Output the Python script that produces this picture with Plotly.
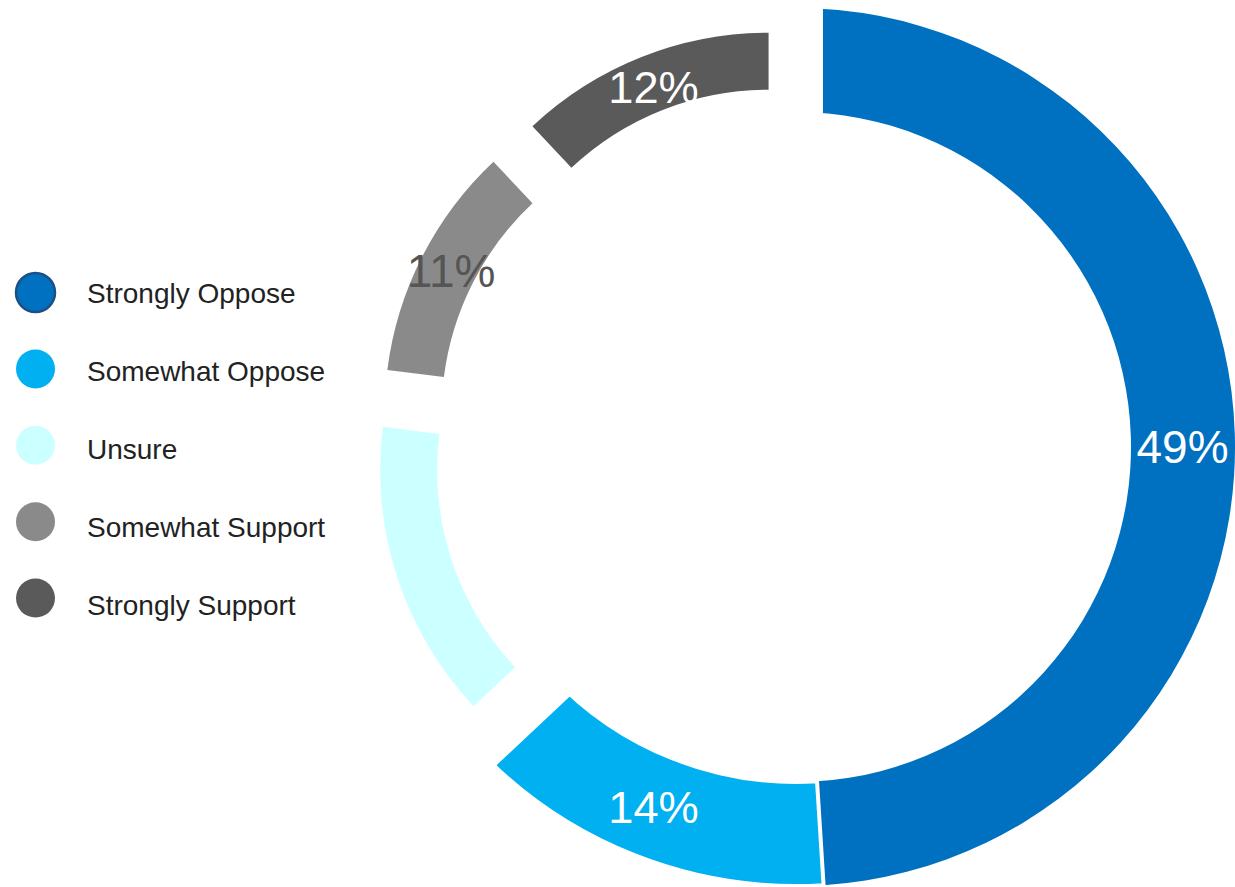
import plotly.graph_objects as go

# ---------------- data ----------------
categories = ["Strongly Oppose", "Somewhat Oppose", "Unsure", "Somewhat Support", "Strongly Support"]
values = [49, 14, 14, 11, 12]
show_label = [True, True, False, True, True]

# ---------------- styles ----------------
colors = ["#0070C0", "#00B0F0", "#CCFFFF", "#8A8A8A", "#5A5A5A"]
label_colors = ["#FFFFFF", "#FFFFFF", "#FFFFFF", "#555555", "#FFFFFF"]
thin_ring = [False, False, True, True, True]      # slices drawn on the narrower, pulled-out ring
WIDE_SEPARATOR = 4       # white line between the two oppose slices
GAP_SEPARATOR = 54       # wide white gap where the wide ring meets the thin ring
legend_border_px = [2.5, 0, 0, 0, 0]

W, H = 1235, 887
FONT = "Liberation Sans, Arial, Helvetica, sans-serif"
TRANSPARENT = "rgba(0,0,0,0)"

# ring geometry (pixels)
CX, CY = 796, 447
R_BIG, R_BIG_IN = 439, 335
R_THIN, R_THIN_IN = 345, 288
PULL_PX = 74.5


def domain_for(half):
    return dict(x=[(CX - half) / W, min(1.0, (CX + half) / W)],
                y=[(H - CY - half) / H, (H - CY + half) / H])


pull_frac = PULL_PX / R_THIN

fig = go.Figure()

# wide ring (Strongly / Somewhat Oppose); white strokes on the other slices open the gaps
fig.add_trace(go.Pie(
    values=values, labels=categories, sort=False, direction="clockwise", rotation=0,
    hole=R_BIG_IN / R_BIG,
    domain=domain_for(R_BIG),
    marker=dict(colors=[TRANSPARENT if t else c for c, t in zip(colors, thin_ring)],
                line=dict(width=[GAP_SEPARATOR if t else (WIDE_SEPARATOR if i > 0 else 0)
                                 for i, t in enumerate(thin_ring)],
                          color="#FFFFFF")),
    textinfo="none", hoverinfo="label+percent", showlegend=False,
))

# narrower pulled-out ring (Unsure / Somewhat Support / Strongly Support)
fig.add_trace(go.Pie(
    values=values, labels=categories, sort=False, direction="clockwise", rotation=0,
    hole=R_THIN_IN / R_THIN,
    domain=domain_for(R_THIN + PULL_PX),
    marker=dict(colors=[c if t else TRANSPARENT for c, t in zip(colors, thin_ring)],
                line=dict(width=0)),
    pull=[pull_frac if t else 0 for t in thin_ring],
    textinfo="none", hoverinfo="skip", showlegend=False,
))

# value labels, laid out on the wide ring geometry
fig.add_trace(go.Pie(
    values=values, labels=categories, sort=False, direction="clockwise", rotation=0,
    hole=R_BIG_IN / R_BIG,
    domain=domain_for(R_BIG),
    marker=dict(colors=[TRANSPARENT] * len(values), line=dict(width=0)),
    text=[f"{v}%" if s else "" for v, s in zip(values, show_label)],
    textinfo="text", textposition="inside", insidetextorientation="horizontal",
    textfont=dict(color=label_colors, size=46, family=FONT),
    hoverinfo="skip", showlegend=False,
))

# custom legend: circles + labels
fig.add_trace(go.Scatter(
    x=[0] * len(categories), y=categories, mode="markers",
    marker=dict(size=39, color=colors, line=dict(width=legend_border_px, color="#1B4F86")),
    xaxis="x", yaxis="y", showlegend=False, hoverinfo="skip", cliponaxis=False,
))
fig.add_trace(go.Scatter(
    x=[1] * len(categories), y=categories, mode="text", text=categories,
    textposition="middle right",
    textfont=dict(size=28, color="#222222", family=FONT),
    xaxis="x", yaxis="y2", showlegend=False, hoverinfo="skip", cliponaxis=False,
))

fig.update_layout(
    width=W, height=H,
    margin=dict(l=0, r=0, t=0, b=0),
    paper_bgcolor="white", plot_bgcolor="rgba(0,0,0,0)",
    showlegend=False,
    xaxis=dict(domain=[0, 0.4], range=[-0.6893, 8.903], visible=False),
    yaxis=dict(domain=[0.28264, 0.71330], range=[4.5, -0.5], type="category",
               categoryarray=categories, visible=False),
    yaxis2=dict(domain=[0.27114, 0.71060], range=[4.5, -0.5], type="category",
                categoryarray=categories, anchor="x", visible=False),
)

fig.write_html("out.html")
